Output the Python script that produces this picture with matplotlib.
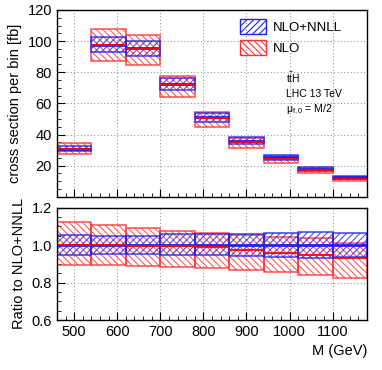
import numpy as np
import matplotlib
matplotlib.use('Agg')
import matplotlib.pyplot as plt
from matplotlib.patches import Patch

plt.rcParams['font.family'] = ['Liberation Sans', 'DejaVu Sans']
plt.rcParams['mathtext.fontset'] = 'custom'
plt.rcParams['mathtext.rm'] = 'Liberation Sans'
plt.rcParams['mathtext.it'] = 'Liberation Sans:italic'
plt.rcParams['hatch.linewidth'] = 0.8

# bins in M (GeV)
edges = np.array([460, 540, 620, 700, 780, 860, 940, 1020, 1100, 1180])

# NLO+NNLL central cross section per bin [fb]
nnll_central = np.array([30.8, 97.6, 95.4, 72.4, 51.2, 36.0, 25.3, 18.1, 12.5])
# NLO+NNLL band relative to its central value
nnll_up = np.array([1.053, 1.050, 1.050, 1.057, 1.057, 1.060, 1.066, 1.070, 1.066])
nnll_down = np.array([0.947, 0.950, 0.950, 0.945, 0.945, 0.940, 0.935, 0.930, 0.934])
# NLO relative to NLO+NNLL central
nlo_central = np.array([1.000, 1.000, 0.995, 0.993, 0.988, 0.975, 0.960, 0.947, 0.930])
nlo_up = np.array([1.123, 1.105, 1.089, 1.076, 1.066, 1.055, 1.044, 1.036, 1.012])
nlo_down = np.array([0.892, 0.895, 0.888, 0.882, 0.876, 0.866, 0.854, 0.840, 0.822])

blue = '#2222ee'
red = '#ff3333'
left = edges[:-1]
width = np.diff(edges)

fig = plt.figure(figsize=(3.82, 3.70), dpi=100)
ax1 = fig.add_axes([0.149, 0.468, 0.812, 0.505])
ax2 = fig.add_axes([0.149, 0.135, 0.812, 0.304])


def draw(ax, scale):
    ax.bar(left, (nlo_up - nlo_down) * scale, bottom=nlo_down * scale, width=width,
           align='edge', fill=False, hatch='\\\\\\\\\\', edgecolor=red, linewidth=1.2, alpha=0.8)
    ax.bar(left, (nnll_up - nnll_down) * scale, bottom=nnll_down * scale, width=width,
           align='edge', fill=False, hatch='/////', edgecolor=blue, linewidth=1.2, alpha=0.8)
    ax.hlines(np.ones_like(scale) * scale, left, edges[1:], color=blue, lw=2)
    ax.hlines(nlo_central * scale, left, edges[1:], color='red', lw=1.3)


draw(ax1, nnll_central)
draw(ax2, np.ones(len(left)))

for ax in (ax1, ax2):
    ax.set_xlim(460, 1180)
    ax.set_xticks(np.arange(500, 1101, 100))
    ax.set_xticks(np.arange(460, 1181, 20), minor=True)
    ax.grid(True, which='major', linestyle=(0, (1, 2)), color='#999999', lw=0.8)
    ax.set_axisbelow(True)
    ax.tick_params(which='both', direction='in', labelsize=10.5, top=False, right=False)
    ax.tick_params(which='major', length=6)
    ax.tick_params(which='minor', length=3)
    for s in ax.spines.values():
        s.set_linewidth(1.0)

ax1.set_ylim(0, 120)
ax1.set_yticks(np.arange(20, 121, 20))
ax1.set_yticks(np.arange(0, 121, 5), minor=True)
ax1.set_xticklabels([])
ax1.set_ylabel('cross section per bin [fb]', fontsize=10.5)

ax2.set_ylim(0.6, 1.2)
ax2.set_yticks([0.6, 0.8, 1.0, 1.2])
ax2.set_yticklabels(['0.6', '0.8', '1.0', '1.2'])
ax2.set_yticks(np.arange(0.6, 1.21, 0.05), minor=True)
ax2.set_ylabel('Ratio to NLO+NNLL', fontsize=10.5)
ax2.set_xlabel('M (GeV)', fontsize=10.5, loc='right')

handles = [Patch(facecolor='none', edgecolor=blue, hatch='/////', label='NLO+NNLL'),
           Patch(facecolor='none', edgecolor=red, hatch='\\\\\\\\\\', label='NLO')]
ax1.legend(handles=handles, loc='upper left', bbox_to_anchor=(0.56, 1.0), frameon=False,
           fontsize=9.5, handlelength=2.0, handleheight=1.3, handletextpad=0.5,
           borderaxespad=0.3)

ax1.text(0.74, 0.61, r'$\mathrm{t\bar{t}H}$', transform=ax1.transAxes, fontsize=7.5)
ax1.text(0.74, 0.535, 'LHC 13 TeV', transform=ax1.transAxes, fontsize=7.5)
ax1.text(0.74, 0.455, r'$\mathrm{\mu_{f,0}}$ = M/2', transform=ax1.transAxes, fontsize=7.5)

fig.savefig('out.png', dpi=100)
